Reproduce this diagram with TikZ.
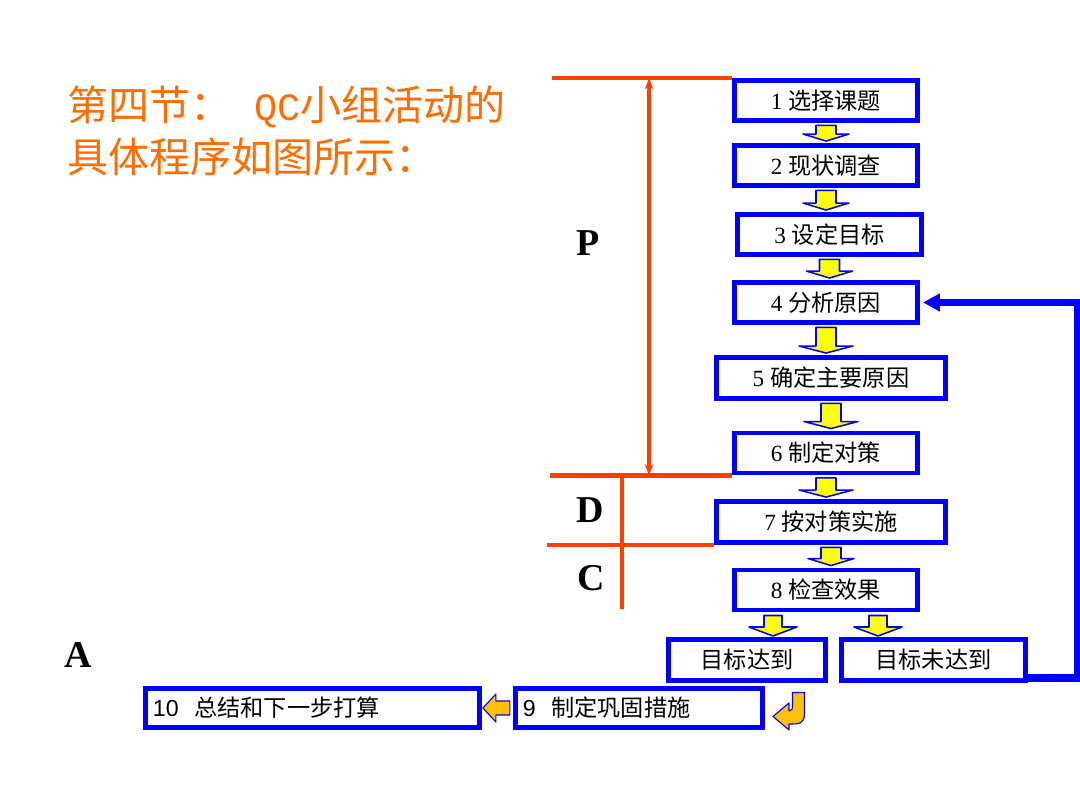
\documentclass[tikz,border=0pt]{standalone}
\usepackage{fontspec}
\setmainfont{Liberation Serif}
\newfontfamily\cjk{Noto Sans CJK SC}
\newfontfamily\arial{Liberation Sans}
\newfontfamily\mono{Liberation Mono}
\usetikzlibrary{calc,arrows.meta}
\definecolor{qcblue}{RGB}{0,0,255}
\definecolor{qcred}{RGB}{255,64,0}
\definecolor{qcorange}{RGB}{255,108,0}
\definecolor{qcyellow}{RGB}{255,255,0}
\definecolor{qcgold}{RGB}{255,192,0}
\begin{document}
\begin{tikzpicture}[x=0.025cm,y=-0.025cm,
    stepbox/.style={draw=qcblue,line width=3.5pt,fill=white,inner sep=0pt,
        minimum height=1cm,font=\fontsize{16.5}{20}\selectfont},
    phase/.style={font=\fontsize{27}{30}\selectfont\bfseries},
    pdca/.style={draw=qcred,line width=3pt},
    yarrow/.style={fill=qcyellow,draw=qcblue,line width=1.1pt,line join=round},
    goldarrow/.style={fill=qcgold,draw=qcblue,line width=0.8pt,line join=round},
    title/.style={text=qcorange,anchor=west,inner sep=0pt,font=\cjk\fontsize{29.2}{34}\selectfont}]
    \useasboundingbox (0,0) rectangle (1080,810);
    \fill[white] (0,0) rectangle (1080,810);

    % title
    \node[title] (t1) at (67,107) {第四节：\hspace{16pt}{\mono\fontsize{27.5}{34}\selectfont QC}小组活动的};
    \node[title] (t2) at (67,157) {具体程序如图所示：};

    % steps
    \node[stepbox,minimum width=4.575cm] (b1) at (826,100.5) {1 \cjk 选择课题};
    \node[stepbox,minimum width=4.575cm] (b2) at (826,165.5) {2 \cjk 现状调查};
    \node[stepbox,minimum width=4.6cm] (b3) at (829.5,234.5) {3 \cjk 设定目标};
    \node[stepbox,minimum width=4.575cm] (b4) at (826,302.5) {4 \cjk 分析原因};
    \node[stepbox,minimum width=5.725cm,minimum height=1.025cm] (b5) at (831,378) {5 \cjk 确定主要原因};
    \node[stepbox,minimum width=4.575cm] (b6) at (826,453) {6 \cjk 制定对策};
    \node[stepbox,minimum width=5.725cm,minimum height=1.025cm] (b7) at (831,522) {7 \cjk 按对策实施};
    \node[stepbox,minimum width=4.575cm] (b8) at (826,590) {8 \cjk 检查效果};
    \node[stepbox,minimum width=3.925cm,minimum height=1.025cm] (yes) at (747,660) {\cjk 目标达到};
    \node[stepbox,minimum width=4.6cm,minimum height=1.025cm] (no) at (933.5,660) {\cjk 目标未达到};
    \node[stepbox,minimum height=0.975cm,text width=5.8cm,inner xsep=0.19cm,align=left] (b9) at (639,708) {\arial 9\ \ \cjk 制定巩固措施};
    \node[stepbox,minimum height=0.975cm,text width=7.975cm,inner xsep=0.19cm,align=left] (b10) at (312.5,708) {\arial 10\ \ \cjk 总结和下一步打算};

    % yellow block arrows
    \foreach \a/\b/\w in {b1/b2/23,b2/b3/23,b3/b4/23,b4/b5/27,b5/b6/27,b6/b7/27,b7/b8/23}
        \filldraw[yarrow] ($(\a.south)+(-10,2.5)$) -- ($(\a.south |- \b.north)+(-10,-9)$)
            -- ($(\a.south |- \b.north)+(-\w,-9)$) -- ($(\a.south |- \b.north)+(0,-2)$)
            -- ($(\a.south |- \b.north)+(\w,-9)$) -- ($(\a.south |- \b.north)+(10,-9)$)
            -- ($(\a.south)+(10,2.5)$) -- cycle;
    \foreach \x in {773,878}
        \filldraw[yarrow] (\x-9,615.5) -- (\x-9,627) -- (\x-24,627) -- (\x,636) -- (\x+24,627)
            -- (\x+9,627) -- (\x+9,615.5) -- cycle;

    % feedback
    \draw[qcblue,line width=5pt,-{Triangle[length=12pt,width=12pt]}]
        ($(no.east)+(0,18)$) -- ++(50,0) |- ($(b4.east)+(3,0)$);

    % gold arrows to 9 and 10
    \filldraw[goldarrow,shift={(yes.south east)}] (-35.5,9.5) -- (-23.5,9.5) -- (-23.5,30)
        .. controls (-23.5,41) and (-28,41) .. (-39,41) -- (-39,47) -- (-55,33.5) -- (-39,20)
        -- (-39,28) .. controls (-36,28) and (-35.5,26) .. (-35.5,22) -- cycle;
    \filldraw[goldarrow,shift={(b9.west)}] (-3,-7) -- (-17,-7) -- (-17,-14) -- (-30,0)
        -- (-17,14) -- (-17,7) -- (-3,7) -- cycle;

    % P D C A
    \draw[pdca] (b1.north west) -- ++(-180,0);
    \draw[pdca] (b6.south west) -- ++(-182,0);
    \draw[pdca] (b7.south west) -- ++(-167,0);
    \draw[pdca,{Stealth[length=8pt,width=6pt]}-{Stealth[length=8pt,width=6pt]}]
        ($(b1.north west)+(-83,0)$) -- ($(b6.south west)+(-83,0)$); %P
    \draw[pdca] ($(b6.south west)+(-110,0)$) -- ++(0,134);
    \node[phase] (lp) at (588,243) {P};
    \node[phase] (ld) at (590,510) {D};
    \node[phase] (lc) at (591,578) {C};
    \node[phase] (la) at (78,655) {A};
\end{tikzpicture}
\end{document}
